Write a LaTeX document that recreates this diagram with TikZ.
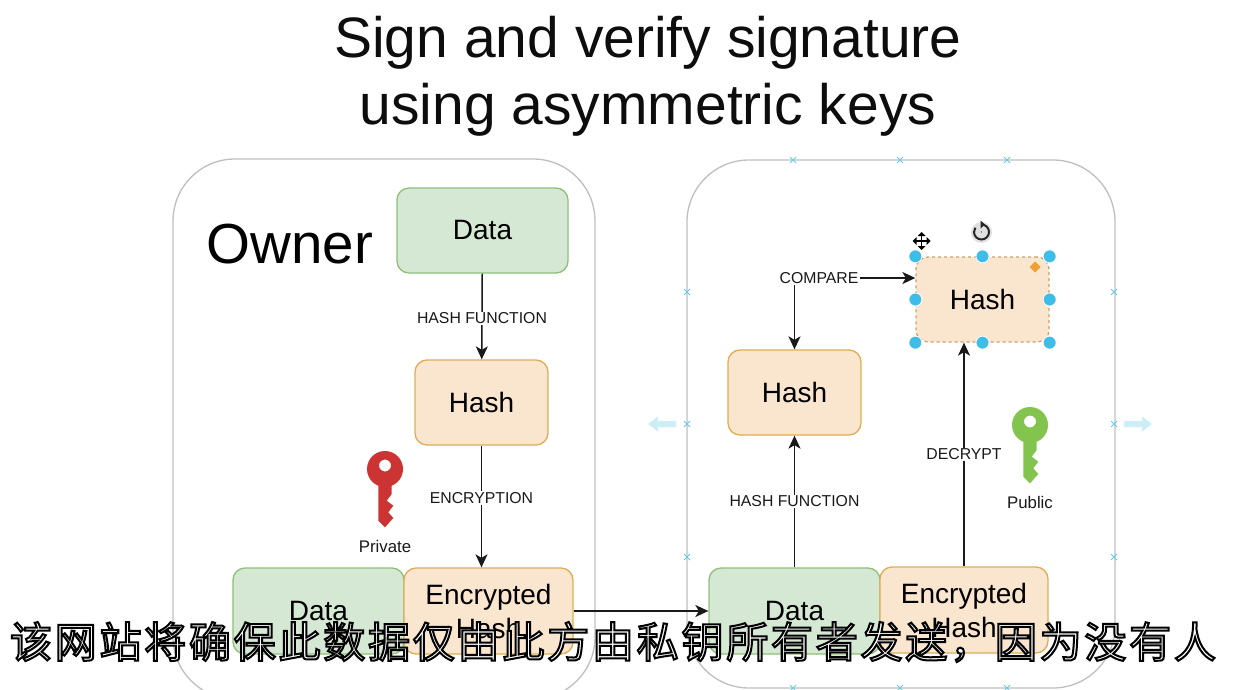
\documentclass[tikz,border=0pt]{standalone}
\usepackage{fontspec}
\setmainfont{Liberation Sans}
\newfontfamily\cjkfont{Noto Sans CJK SC}[LetterSpace=6.6]
\usetikzlibrary{arrows.meta,calc}
\definecolor{greenfill}{HTML}{D5E8D4}
\definecolor{greenline}{HTML}{8FBF78}
\definecolor{orangefill}{HTML}{FAE5CF}
\definecolor{orangeline}{HTML}{DDAE55}
\definecolor{dashline}{HTML}{C9A26A}
\definecolor{framegrey}{HTML}{BFBFBF}
\definecolor{handleblue}{HTML}{3DBDE8}
\definecolor{paleblue}{HTML}{CDEEF7}
\definecolor{redkey}{HTML}{CC3333}
\definecolor{greenkey}{HTML}{82C44E}
\definecolor{diam}{HTML}{EFA035}
\newcommand{\fsz}[1]{\fontsize{#1}{#1}\selectfont}
\tikzset{
  x=1pt,y=-1pt,
  frame/.style={draw=framegrey,line width=1.3pt,rounded corners=62pt,fill=white},
  boxbase/.style={rounded corners=12pt,line width=1.3pt,inner sep=0pt,font=\fsz{28},align=center,text=black},
  greenbox/.style={boxbase,draw=greenline,fill=greenfill},
  orangebox/.style={boxbase,draw=orangeline,fill=orangefill},
  edgelabel/.style={font=\fsz{15.8},inner sep=1pt,fill=white,text=black!90},
  keylabel/.style={font=\fsz{16.8},inner sep=0pt,text=black!90},
  arrow/.style={draw=black!90,line width=1.5pt,-{Stealth[length=13pt,width=12pt,inset=3.5pt]}},
  handle/.style={circle,fill=handleblue,draw=white,line width=0.8pt,minimum size=13pt,inner sep=0pt},
  xmark/.style={draw=handleblue!80,line width=1pt},
  pics/xm/.style={code={\draw[xmark] (-3,-3)--(3,3) (-3,3)--(3,-3);}},
  pics/keyshape/.style={code={
    \fill[#1,even odd rule] (0,0) circle[radius=18] (0,-3.5) circle[radius=6];
    \fill[#1] (-6.7,10) -- (-6.7,51.7) -- (0,58.3) -- (8.3,49) -- (3.3,43.3) -- (8.3,36.7) -- (1.7,31.7) -- (6.7,25) -- (6.7,10) -- cycle;
  }}
}
\begin{document}
\begin{tikzpicture}
\useasboundingbox (0,0) rectangle (1240,690);
\fill[white] (0,0) rectangle (1240,690);
\begin{scope}
\clip (0,0) rectangle (1240,690);
\node[frame,minimum width=422pt,minimum height=540pt,inner sep=0pt] (owner) at (384,429) {};
\node[frame,minimum width=428pt,minimum height=528pt,inner sep=0pt] (verifier) at (901,424) {};
\end{scope}
\node[font=\fsz{57},text=black!95,inner sep=0pt] (title1) at (648,43) {Sign and verify signature};
\node[font=\fsz{57},text=black!95,inner sep=0pt] (title2) at (648,110) {using asymmetric keys};
\node[font=\fsz{56.5},text=black,inner sep=0pt] (ownerlabel) at (290,244) {Owner};

% left column
\node[greenbox,minimum width=171pt,minimum height=85pt] (data1) at (482.5,230.5) {Data};
\node[orangebox,minimum width=133pt,minimum height=85pt] (hash1) at (481.5,402.5) {Hash};
\node[greenbox,minimum width=171pt,minimum height=86pt] (data2) at (318.5,611) {Data};
\node[orangebox,minimum width=169pt,minimum height=86pt] (enc1) at (488.5,611) {Encrypted\\[6pt]Hash};
% right column
\node[greenbox,minimum width=171pt,minimum height=86pt] (data3) at (794.5,611) {Data};
\node[orangebox,minimum width=168pt,minimum height=86pt] (enc2) at (964,610) {Encrypted\\[6pt]Hash};
\node[orangebox,minimum width=133pt,minimum height=85pt] (hash2) at (794.5,392.5) {Hash};
\node[orangebox,minimum width=133pt,minimum height=85pt,dashed,draw=dashline] (hash3) at (982.5,299.5) {Hash};

% connectors
\draw[arrow] (data1) -- (hash1) node[pos=0.52,edgelabel] (lab1) {HASH FUNCTION};
\draw[arrow] (hash1.south) -- (hash1.south |- enc1.north) node[pos=0.43,edgelabel] (lab2) {ENCRYPTION};
\draw[arrow] (enc1.east) -- (data3.west);
\draw[arrow] (data3) -- (hash2) node[pos=0.5,edgelabel] (lab3) {HASH FUNCTION};
\draw[arrow] (enc2.north) -- (enc2.north |- hash3.south) node[pos=0.50,edgelabel] (lab4) {DECRYPT};
\node[edgelabel] (compare) at (819,278) {COMPARE};
\draw[arrow] (compare.east) -- (compare.east -| hash3.west);
\draw[arrow] (compare.south -| hash2.north) -- (hash2.north);

% keys
\pic at (385,469) {keyshape=redkey};
\node[keylabel] (private) at (385,546) {Private};
\pic at (1030,425) {keyshape=greenkey};
\node[keylabel] (public) at (1030,502) {Public};

% selection handles
\foreach \a/\n in {north west/a,north/b,north east/c,west/d,east/e,south west/f,south/g,south east/h}
  \node[handle] (h\n) at (hash3.\a) {};
\fill[diam] (1035,261.5) -- (1040.5,267) -- (1035,272.5) -- (1029.5,267) -- cycle;

% move icon
\begin{scope}[shift={(921.5,241)}]
  \draw[black,line width=1.8pt] (-6,0)--(6,0) (0,-6)--(0,6);
  \fill[black] (-9,0)--(-5,-4)--(-5,4)--cycle (9,0)--(5,-4)--(5,4)--cycle
               (0,-9)--(-4,-5)--(4,-5)--cycle (0,9)--(-4,5)--(4,5)--cycle;
\end{scope}
% rotate icon
\begin{scope}[shift={(981.5,232)}]
  \fill[black!12] (0,0.5) circle[radius=10.5];
  \draw[black!85,line width=2pt] (0,-7.5) arc[start angle=-90,end angle=215,radius=7.5];
  \fill[black!85] (3.5,-7.5)--(-1,-11.5)--(-1,-3.5)--cycle;
  \fill[black!85] (0,0) circle[radius=0.7];
\end{scope}

% connection marks
\foreach \p in {(793,160),(900,160),(1007,160),(687,292),(687,424),(687,557),(1114,292),(1114,424),(1114,557),(793,688),(900,688),(1007,688)}
  \pic at \p {xm};

% side arrows
\fill[paleblue] (648,424) -- (658,416.5) -- (658,421) -- (676,421) -- (676,427) -- (658,427) -- (658,431.5) -- cycle;
\fill[paleblue] (1152,424) -- (1142,416.5) -- (1142,421) -- (1124,421) -- (1124,427) -- (1142,427) -- (1142,431.5) -- cycle;

% caption
\node[inner sep=0pt,text=white] (caption) at (613,642) {\cjkfont\fsz{42}\special{pdf:code 0 G 2 w 2 Tr}该网站将确保此数据仅由此方由私钥所有者发送^^^^ff0c因为没有人\special{pdf:code 0 Tr}};
\end{tikzpicture}
\end{document}
